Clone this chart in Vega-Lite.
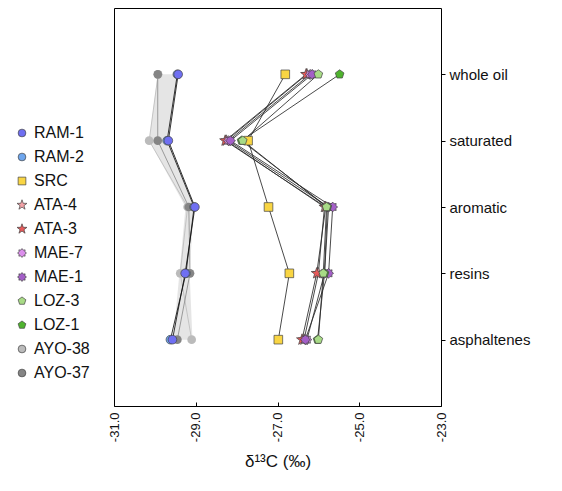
{
  "$schema": "https://vega.github.io/schema/vega-lite/v6.json",
  "width": 327,
  "height": 398,
  "autosize": "none",
  "padding": {"left": 114, "top": 8, "right": 121, "bottom": 85},
  "background": "white",
  "config": {
    "font": "Liberation Sans",
    "view": {"stroke": "#000", "strokeWidth": 1}
  },
  "datasets": {
    "range": [
      {"fraction": "whole oil", "lo": -29.93, "hi": -29.45},
      {"fraction": "saturated", "lo": -30.14, "hi": -29.7},
      {"fraction": "aromatic", "lo": -29.25, "hi": -29.05},
      {"fraction": "resins", "lo": -29.4, "hi": -29.15},
      {"fraction": "asphaltenes", "lo": -29.55, "hi": -29.08}
    ],
    "main": [
      {"sample": "AYO-38", "fraction": "whole oil", "d13C": -29.92},
      {"sample": "AYO-38", "fraction": "saturated", "d13C": -30.14},
      {"sample": "AYO-38", "fraction": "aromatic", "d13C": -29.2},
      {"sample": "AYO-38", "fraction": "resins", "d13C": -29.38},
      {"sample": "AYO-38", "fraction": "asphaltenes", "d13C": -29.1},
      {"sample": "AYO-37", "fraction": "whole oil", "d13C": -29.93},
      {"sample": "AYO-37", "fraction": "saturated", "d13C": -29.93},
      {"sample": "AYO-37", "fraction": "aromatic", "d13C": -29.17},
      {"sample": "AYO-37", "fraction": "resins", "d13C": -29.14},
      {"sample": "AYO-37", "fraction": "asphaltenes", "d13C": -29.45},
      {"sample": "RAM-2", "fraction": "whole oil", "d13C": -29.45},
      {"sample": "RAM-2", "fraction": "saturated", "d13C": -29.7},
      {"sample": "RAM-2", "fraction": "aromatic", "d13C": -29.04},
      {"sample": "RAM-2", "fraction": "resins", "d13C": -29.24},
      {"sample": "RAM-2", "fraction": "asphaltenes", "d13C": -29.62},
      {"sample": "RAM-1", "fraction": "whole oil", "d13C": -29.43},
      {"sample": "RAM-1", "fraction": "saturated", "d13C": -29.67},
      {"sample": "RAM-1", "fraction": "aromatic", "d13C": -29.02},
      {"sample": "RAM-1", "fraction": "resins", "d13C": -29.26},
      {"sample": "RAM-1", "fraction": "asphaltenes", "d13C": -29.57},
      {"sample": "SRC", "fraction": "whole oil", "d13C": -26.81},
      {"sample": "SRC", "fraction": "saturated", "d13C": -27.72},
      {"sample": "SRC", "fraction": "aromatic", "d13C": -27.22},
      {"sample": "SRC", "fraction": "resins", "d13C": -26.71},
      {"sample": "SRC", "fraction": "asphaltenes", "d13C": -26.98},
      {"sample": "ATA-4", "fraction": "whole oil", "d13C": -26.28},
      {"sample": "ATA-4", "fraction": "saturated", "d13C": -28.25},
      {"sample": "ATA-4", "fraction": "aromatic", "d13C": -25.85},
      {"sample": "ATA-4", "fraction": "resins", "d13C": -26.0},
      {"sample": "ATA-4", "fraction": "asphaltenes", "d13C": -26.35},
      {"sample": "ATA-3", "fraction": "whole oil", "d13C": -26.3},
      {"sample": "ATA-3", "fraction": "saturated", "d13C": -28.28},
      {"sample": "ATA-3", "fraction": "aromatic", "d13C": -25.82},
      {"sample": "ATA-3", "fraction": "resins", "d13C": -26.04},
      {"sample": "ATA-3", "fraction": "asphaltenes", "d13C": -26.4},
      {"sample": "MAE-7", "fraction": "whole oil", "d13C": -26.2},
      {"sample": "MAE-7", "fraction": "saturated", "d13C": -28.2},
      {"sample": "MAE-7", "fraction": "aromatic", "d13C": -25.75},
      {"sample": "MAE-7", "fraction": "resins", "d13C": -25.85},
      {"sample": "MAE-7", "fraction": "asphaltenes", "d13C": -26.28},
      {"sample": "MAE-1", "fraction": "whole oil", "d13C": -26.15},
      {"sample": "MAE-1", "fraction": "saturated", "d13C": -28.15},
      {"sample": "MAE-1", "fraction": "aromatic", "d13C": -25.65},
      {"sample": "MAE-1", "fraction": "resins", "d13C": -25.75},
      {"sample": "MAE-1", "fraction": "asphaltenes", "d13C": -26.32},
      {"sample": "LOZ-1", "fraction": "whole oil", "d13C": -25.48},
      {"sample": "LOZ-1", "fraction": "saturated", "d13C": -27.88},
      {"sample": "LOZ-1", "fraction": "aromatic", "d13C": -25.78},
      {"sample": "LOZ-1", "fraction": "resins", "d13C": -25.85},
      {"sample": "LOZ-1", "fraction": "asphaltenes", "d13C": -26.02},
      {"sample": "LOZ-3", "fraction": "whole oil", "d13C": -26.0},
      {"sample": "LOZ-3", "fraction": "saturated", "d13C": -27.85},
      {"sample": "LOZ-3", "fraction": "aromatic", "d13C": -25.8},
      {"sample": "LOZ-3", "fraction": "resins", "d13C": -25.88},
      {"sample": "LOZ-3", "fraction": "asphaltenes", "d13C": -26.0}
    ]
  },
  "encoding": {
    "y": {
      "field": "fraction",
      "type": "ordinal",
      "scale": {"type": "point", "padding": 1, "domain": ["whole oil", "saturated", "aromatic", "resins", "asphaltenes"]},
      "axis": {
        "orient": "right",
        "title": null,
        "domain": false,
        "ticks": true,
        "tickSize": 4,
        "tickColor": "#000",
        "labelFontSize": 15,
        "labelColor": "#111",
        "labelPadding": 4
      }
    }
  },
  "layer": [
    {
      "data": {"name": "range"},
      "mark": {"type": "area", "orient": "horizontal", "fill": "#cfcfcf", "opacity": 0.55},
      "encoding": {
        "x": {"field": "lo", "type": "quantitative"},
        "x2": {"field": "hi"},
        "order": {"value": null}
      }
    },
    {
      "data": {"name": "main"},
      "mark": {"type": "line", "strokeWidth": 1},
      "encoding": {
        "x": {"field": "d13C", "type": "quantitative"},
        "detail": {"field": "sample"},
        "order": {"value": null},
        "stroke": {
          "condition": [
            {"test": "datum.sample == 'AYO-38'", "value": "#bdbdbd"},
            {"test": "datum.sample == 'AYO-37'", "value": "#8c8c8c"},
            {"test": "indexof(datum.sample, 'RAM') >= 0", "value": "#111111"}
          ],
          "value": "#2a2a2a"
        },
        "strokeOpacity": {"value": 0.85}
      }
    },
    {
      "data": {"name": "main"},
      "mark": {"type": "point", "filled": true, "opacity": 1, "size": 75, "stroke": "#444", "strokeWidth": 0.7},
      "encoding": {
        "x": {
          "field": "d13C",
          "type": "quantitative",
          "scale": {"domain": [-31, -23], "nice": false, "zero": false},
          "axis": {
            "values": [-31, -29, -27, -25, -23],
            "labelExpr": "replace(format(datum.value, '.1f'), '−', '-')",
            "labelAngle": -90,
            "labelFontSize": 13,
            "labelColor": "#111",
            "grid": false,
            "domain": false,
            "tickColor": "#000",
            "tickSize": -4,
            "labelPadding": 10,
            "title": "δ¹³C (‰)",
            "titleFontSize": 17,
            "titleFontWeight": "normal",
            "titleColor": "#111",
            "titlePadding": 12
          }
        },
        "color": {
          "field": "sample",
          "type": "nominal",
          "scale": {
            "domain": ["RAM-1", "RAM-2", "SRC", "ATA-4", "ATA-3", "MAE-7", "MAE-1", "LOZ-3", "LOZ-1", "AYO-38", "AYO-37"],
            "range": ["#6f6ff2", "#6ea6ee", "#f9d543", "#f4a3a8", "#e85a5a", "#dc8fec", "#a45fc8", "#a8db86", "#4fb32e", "#bbbbbb", "#858585"]
          },
          "legend": {
            "title": null,
            "orient": "none",
            "legendX": -100,
            "legendY": 117,
            "labelFontSize": 16,
            "labelColor": "#111",
            "symbolSize": 60,
            "rowPadding": 8,
            "labelOffset": 4,
            "symbolStrokeColor": "#444",
            "symbolStrokeWidth": 0.7
          }
        },
        "shape": {
          "field": "sample",
          "type": "nominal",
          "scale": {
            "domain": ["RAM-1", "RAM-2", "SRC", "ATA-4", "ATA-3", "MAE-7", "MAE-1", "LOZ-3", "LOZ-1", "AYO-38", "AYO-37"],
            "range": [
              "circle", "circle", "square",
              "M0,-1.35L0.32,-0.44L1.28,-0.42L0.51,0.17L0.79,1.09L0,0.54L-0.79,1.09L-0.51,0.17L-1.28,-0.42L-0.32,-0.44Z",
              "M0,-1.35L0.32,-0.44L1.28,-0.42L0.51,0.17L0.79,1.09L0,0.54L-0.79,1.09L-0.51,0.17L-1.28,-0.42L-0.32,-0.44Z",
              "M1.15,0L0.74,0.31L0.81,0.81L0.31,0.74L0,1.15L-0.31,0.74L-0.81,0.81L-0.74,0.31L-1.15,0L-0.74,-0.31L-0.81,-0.81L-0.31,-0.74L0,-1.15L0.31,-0.74L0.81,-0.81L0.74,-0.31Z",
              "M1.15,0L0.74,0.31L0.81,0.81L0.31,0.74L0,1.15L-0.31,0.74L-0.81,0.81L-0.74,0.31L-1.15,0L-0.74,-0.31L-0.81,-0.81L-0.31,-0.74L0,-1.15L0.31,-0.74L0.81,-0.81L0.74,-0.31Z",
              "M0,-1.05L1,-0.32L0.62,0.85L-0.62,0.85L-1,-0.32Z",
              "M0,-1.05L1,-0.32L0.62,0.85L-0.62,0.85L-1,-0.32Z",
              "circle", "circle"
            ]
          }
        },
        "strokeWidth": {
          "condition": {"test": "indexof(datum.sample, 'AYO') >= 0", "value": 0},
          "value": 0.7
        }
      }
    }
  ]
}
